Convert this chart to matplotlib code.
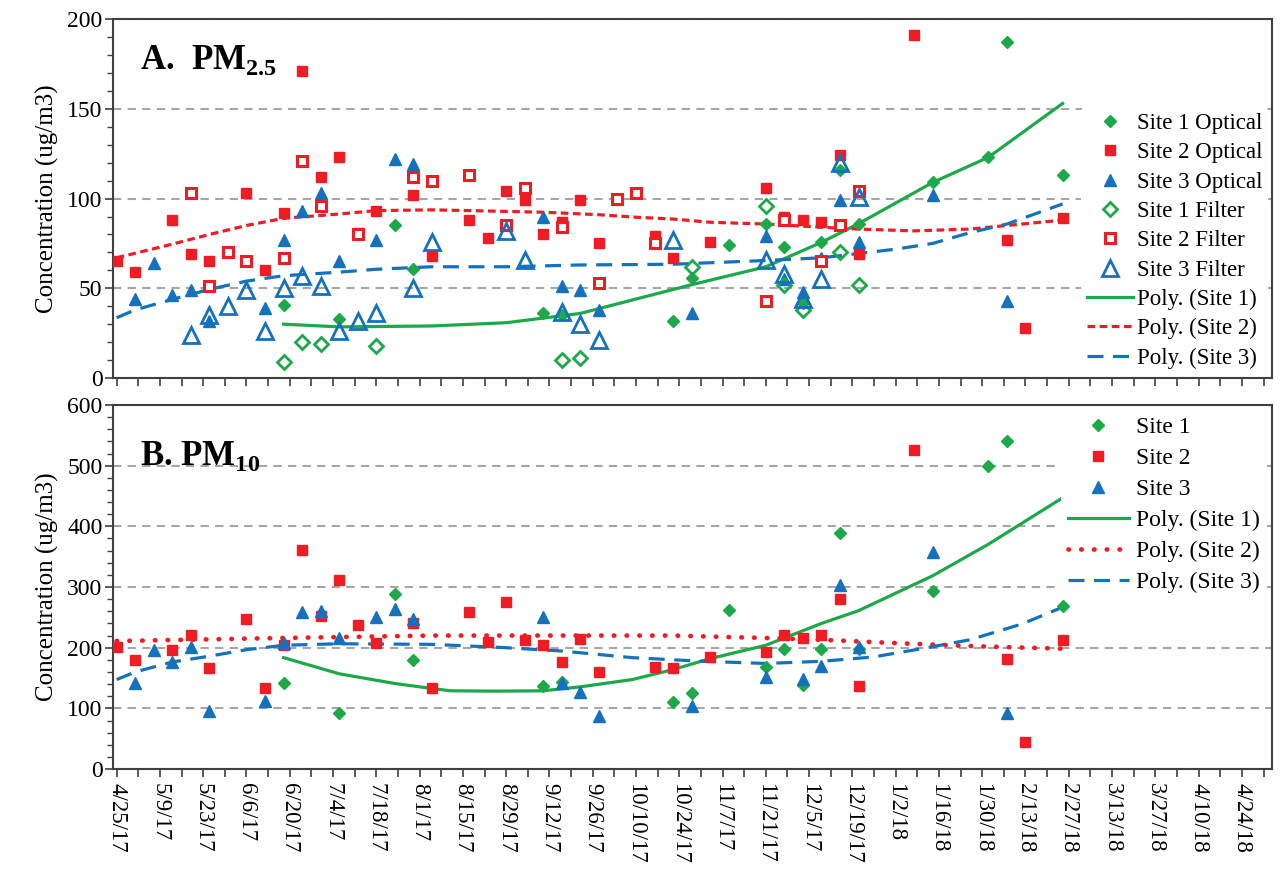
import datetime as dt

import matplotlib
matplotlib.use('Agg')
import matplotlib.pyplot as plt
import numpy as np
from matplotlib.ticker import MultipleLocator, FuncFormatter

plt.rcParams['font.family'] = 'Liberation Serif'
plt.rcParams['mathtext.fontset'] = 'custom'
plt.rcParams['mathtext.rm'] = 'Liberation Serif'
plt.rcParams['mathtext.bf'] = 'Liberation Serif:bold'

# samples every 6 days from 4/25/17, k = sample number
START = dt.date(2017, 4, 25)
STEP = 6

# ---- A. PM2.5 ----
pm25_s1_opt_k = [9, 12, 15, 16, 23, 24, 30, 31, 33, 35, 36, 37, 38, 39, 40, 44, 47, 48, 51]
pm25_s1_opt = [40.5, 33, 85, 61, 36, 35, 32, 56, 74, 86, 73, 42, 76, 116, 86, 109, 123, 187, 113]
pm25_s2_opt_k = [0, 1, 3, 4, 5, 7, 8, 9, 10, 11, 12, 13, 14, 16, 17, 19, 20, 21, 22, 23, 24, 25,
                 26, 29, 30, 32, 35, 36, 37, 38, 39, 40, 43, 48, 49, 51]
pm25_s2_opt = [65, 59, 88, 69, 65, 103, 60, 92, 171, 112, 123, 81, 93, 102, 68, 88, 78, 104, 99, 80, 87, 99,
               75, 79, 67, 76, 106, 90, 88, 87, 124, 69, 191, 77, 28, 89]
pm25_s3_opt_k = [1, 2, 3, 4, 5, 8, 9, 10, 11, 12, 14, 15, 16, 23, 24, 25, 26, 31, 35, 36, 37, 38,
                 39, 40, 44, 48]
pm25_s3_opt = [44, 64, 46, 49, 32, 39, 77, 93, 103, 65, 77, 122, 119, 90, 51, 49, 38, 36, 79, 55, 48, 67,
               99, 76, 102, 43]
pm25_s1_fil_k = [9, 10, 11, 14, 24, 25, 31, 35, 36, 37, 39, 40]
pm25_s1_fil = [9, 20, 19, 18, 10, 11, 62, 96, 52, 38, 70, 52]
pm25_s2_fil_k = [4, 5, 6, 7, 9, 10, 11, 13, 16, 17, 19, 21, 22, 24, 26, 27, 28, 29, 35, 36, 38, 39, 40]
pm25_s2_fil = [103, 51, 70, 65, 67, 121, 96, 80, 112, 110, 113, 85, 106, 84, 53, 100, 103, 75, 43, 88, 65,
               85, 104]
pm25_s3_fil_k = [4, 5, 6, 7, 8, 9, 10, 11, 12, 13, 14, 16, 17, 21, 22, 24, 25, 26, 30, 35, 36, 37, 38, 39, 40]
pm25_s3_fil = [24, 35, 40, 49, 26, 50, 57, 51, 26, 32, 36, 50, 76, 82, 66, 37, 30, 21, 77, 66, 58, 44, 55,
               120, 101]

# polynomial trend lines
pm25_t1_k = [9, 12, 17, 21, 25, 28, 31, 35, 38, 40, 44, 47, 51]
pm25_t1 = [30, 28.5, 29, 30.8, 36, 44, 52, 62, 75.6, 86, 109, 123, 153]
pm25_t2_k = [0, 3, 5, 7, 9, 12, 14, 17, 19, 23, 26, 28, 30, 32, 35, 38, 40, 43, 46, 48, 51]
pm25_t2 = [67, 74.6, 80, 85, 89, 91.4, 93.3, 93.7, 93.3, 92.4, 91, 89.6, 88.6, 86.8, 85.8, 84, 83, 82, 83,
           85, 88]
pm25_t3_k = [0, 1, 3, 5, 7, 9, 12, 14, 17, 21, 25, 30, 35, 38, 40, 42, 44, 46, 48, 51]
pm25_t3 = [33.6, 38, 43.8, 49.4, 54, 57, 59, 60.6, 62, 62, 63, 63.4, 65.5, 67, 69.4, 71.8, 75, 81, 85.8, 97]

# ---- B. PM10 ----
pm10_s1_k = [9, 12, 15, 16, 23, 24, 30, 31, 33, 35, 36, 37, 38, 39, 40, 44, 47, 48, 51]
pm10_s1 = [141, 92, 288, 180, 137, 144, 111, 125, 262, 168, 198, 139, 198, 389, 198, 294, 499, 541, 268]
pm10_s2_k = [0, 1, 3, 4, 5, 7, 8, 9, 10, 11, 12, 13, 14, 16, 17, 19, 20, 21, 22, 23, 24, 25, 26, 29,
             30, 32, 35, 36, 37, 38, 39, 40, 43, 48, 49, 51]
pm10_s2 = [201, 179, 196, 221, 166, 248, 134, 204, 361, 253, 312, 238, 208, 240, 134, 259, 209, 276, 213,
           204, 177, 214, 160, 168, 166, 185, 193, 221, 216, 221, 281, 137, 526, 182, 44, 213]
pm10_s3_k = [1, 2, 3, 4, 5, 8, 9, 10, 11, 12, 14, 15, 16, 23, 24, 25, 26, 31, 35, 37, 38, 39, 40, 44, 48]
pm10_s3 = [141, 197, 177, 201, 95, 112, 207, 259, 261, 216, 251, 264, 248, 250, 142, 127, 88, 104, 152, 149,
           170, 303, 201, 357, 92]

pm10_t1_k = [9, 12, 15, 17, 18, 20.5, 23, 25, 27.8, 30, 32, 35, 38, 40, 44, 47, 51]
pm10_t1 = [183.6, 157, 141, 132.8, 129, 128.4, 129, 135.5, 147.5, 164, 182, 204, 240, 261, 318.6, 370.5, 447]
pm10_t2_k = [0, 9, 17, 25, 30, 33, 35, 38, 42, 46, 51]
pm10_t2 = [211, 216, 220, 220, 220, 217.5, 216, 213, 207.6, 202.7, 198.4]
pm10_t3_k = [0, 1, 3, 5, 7, 9, 12, 17, 21, 24, 27.8, 31.3, 35, 38, 40.8, 43.4, 46, 48.8, 51]
pm10_t3 = [147.5, 160, 176.5, 186, 196.7, 204, 206.5, 205.5, 200, 194.5, 183.6, 178, 174, 177.6, 184.7,
           198.4, 213, 239, 266.7]

GREEN = '#1DA84A'
RED = '#F01C24'
BLUE = '#1471BE'
GRID = '#A6A6A6'


def days(k):
    return np.asarray(k, dtype=float) * STEP


def date_label(x, pos):
    d = START + dt.timedelta(days=int(round(x)))
    return f'{d.month}/{d.day}/{d.year % 100}'


def style_axes(ax, ymax, major, minor):
    ax.set_xlim(-1.2, 373.7)
    ax.set_ylim(0, ymax)
    ax.xaxis.set_major_locator(MultipleLocator(14))
    ax.xaxis.set_minor_locator(MultipleLocator(7))
    ax.yaxis.set_major_locator(MultipleLocator(major))
    ax.yaxis.set_minor_locator(MultipleLocator(minor))
    ax.tick_params(axis='x', which='both', direction='out', length=6, width=1.2, color='#404040')
    ax.tick_params(axis='y', which='major', direction='out', length=6, width=1.2, color='#404040',
                   labelsize=17, pad=1.5)
    ax.tick_params(axis='y', which='minor', direction='out', length=4, width=1.0, color='#404040')
    ax.yaxis.grid(True, which='major', ls=(0, (4, 3)), color=GRID, lw=1.5)
    ax.set_axisbelow(True)
    for s in ax.spines.values():
        s.set_color('#404040')
        s.set_linewidth(1.5)
    ax.set_ylabel('Concentration (ug/m3)', fontsize=18, labelpad=6)


fig = plt.figure(figsize=(12.82, 8.69), dpi=100)
ax1 = fig.add_axes([0.0881, 0.565, 0.904, 0.413])
ax2 = fig.add_axes([0.0881, 0.115, 0.904, 0.419])

# ---- panel A ----
style_axes(ax1, 200, 50, 10)
ax1.tick_params(axis='x', labelbottom=False)

l_t1, = ax1.plot(days(pm25_t1_k), pm25_t1, color=GREEN, lw=2.3, zorder=2)
l_t2, = ax1.plot(days(pm25_t2_k), pm25_t2, color=RED, lw=2.3, ls=(0, (2.4, 1.4)), zorder=2)
l_t3, = ax1.plot(days(pm25_t3_k), pm25_t3, color=BLUE, lw=2.3, ls=(0, (5, 3)), zorder=2)

m1, = ax1.plot(days(pm25_s1_opt_k), pm25_s1_opt, ls='none', marker='D', ms=6, color=GREEN, zorder=3)
m2, = ax1.plot(days(pm25_s2_opt_k), pm25_s2_opt, ls='none', marker='s', ms=7.5, color=RED, zorder=3)
m3, = ax1.plot(days(pm25_s3_opt_k), pm25_s3_opt, ls='none', marker='^', ms=8.5, color=BLUE, zorder=3)
f1, = ax1.plot(days(pm25_s1_fil_k), pm25_s1_fil, ls='none', marker='D', ms=7.5, mfc='none', mec=GREEN,
               mew=2, zorder=4)
f2, = ax1.plot(days(pm25_s2_fil_k), pm25_s2_fil, ls='none', marker='s', ms=7.5, mfc='white', mec=RED,
               mew=2.2, zorder=4)
f3, = ax1.plot(days(pm25_s3_fil_k), pm25_s3_fil, ls='none', marker='^', ms=11, mfc='none', mec=BLUE,
               mew=2, zorder=4)

ax1.text(0.023, 0.885, r'A.  PM$_{\mathbf{2.5}}$', transform=ax1.transAxes, fontsize=25,
         fontweight='bold', va='center', ha='left')

ax1.legend([m1, m2, m3, f1, f2, f3, l_t1, l_t2, l_t3],
           ['Site 1 Optical', 'Site 2 Optical', 'Site 3 Optical', 'Site 1 Filter',
            'Site 2 Filter', 'Site 3 Filter', 'Poly. (Site 1)', 'Poly. (Site 2)', 'Poly. (Site 3)'],
           loc='lower right', bbox_to_anchor=(1.0, 0.0), fontsize=16.5, frameon=True,
           facecolor='white', edgecolor='none', framealpha=1, labelspacing=0.36,
           handlelength=2.0, handletextpad=0.2, borderpad=0.25, borderaxespad=0.15)

# ---- panel B ----
style_axes(ax2, 600, 100, 20)
ax2.xaxis.set_major_formatter(FuncFormatter(date_label))
ax2.tick_params(axis='x', which='major', labelsize=16.5, labelrotation=270, pad=4)

n_t1, = ax2.plot(days(pm10_t1_k), pm10_t1, color=GREEN, lw=2.3, zorder=2)
n_t2, = ax2.plot(days(pm10_t2_k), pm10_t2, color=RED, lw=3.4, ls=(0, (0.1, 2.6)),
                 dash_capstyle='round', zorder=2)
n_t3, = ax2.plot(days(pm10_t3_k), pm10_t3, color=BLUE, lw=2.3, ls=(0, (5, 3)), zorder=2)

p1, = ax2.plot(days(pm10_s1_k), pm10_s1, ls='none', marker='D', ms=6, color=GREEN, zorder=3)
p2, = ax2.plot(days(pm10_s2_k), pm10_s2, ls='none', marker='s', ms=7.5, color=RED, zorder=3)
p3, = ax2.plot(days(pm10_s3_k), pm10_s3, ls='none', marker='^', ms=8.5, color=BLUE, zorder=3)

ax2.text(0.023, 0.86, r'B. PM$_{\mathbf{10}}$', transform=ax2.transAxes, fontsize=25,
         fontweight='bold', va='center', ha='left')

ax2.legend([p1, p2, p3, n_t1, n_t2, n_t3],
           ['Site 1', 'Site 2', 'Site 3', 'Poly. (Site 1)', 'Poly. (Site 2)', 'Poly. (Site 3)'],
           loc='upper right', bbox_to_anchor=(1.0, 1.0), fontsize=17, frameon=True,
           facecolor='white', edgecolor='none', framealpha=1, labelspacing=0.4,
           handlelength=2.6, handletextpad=0.3, borderpad=0.3, borderaxespad=0.2)

fig.savefig('out.png', dpi=100)
